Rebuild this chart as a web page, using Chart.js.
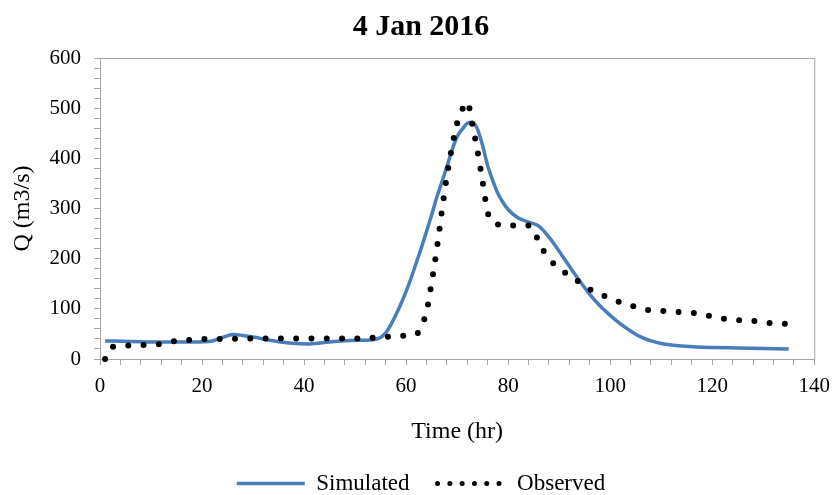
<!DOCTYPE html>
<html>
<head>
<meta charset="utf-8">
<script src="https://cdn.jsdelivr.net/npm/chart.js@4.4.1/dist/chart.umd.min.js"></script>
<style>
  html, body { margin: 0; padding: 0; background: #fff; }
  #wrap { width: 839px; height: 495px; }
</style>
</head>
<body>
<div id="wrap"><canvas id="grafico"></canvas></div>
<script>
// Simulated hydrograph (hour, Q m3/s)
const simHours = [1, 6, 12, 18, 22, 24, 26, 28, 30, 33, 37, 41, 45, 49, 53, 55, 56, 57, 58, 59, 60, 61, 62, 63, 64, 65, 66, 67, 68, 69, 70, 71, 72, 73, 74, 75, 76, 77, 78, 79, 80, 82, 84, 86, 88, 90, 92, 94, 96, 98, 100, 102, 104, 106, 108, 110, 112, 114, 117, 120, 125, 130, 135];
const simQ = [36, 35, 34, 34, 36, 43, 49, 47, 44, 38, 32, 30, 34, 37, 38, 43, 52, 68, 88, 110, 135, 162, 192, 222, 254, 287, 322, 352, 384, 416, 443, 458, 470, 472, 458, 425, 385, 355, 330, 312, 298, 281, 273, 265, 243, 215, 185, 156, 129, 106, 87, 70, 56, 44, 36, 31, 28, 26, 24, 23, 22, 21, 20];

// Observed hydrograph (hour, Q m3/s)
const obsHours = [1, 2, 3, 6, 9, 12, 15, 18, 21, 25, 30, 40, 50, 53, 56, 59, 62, 63, 64, 65, 66, 67, 68, 69, 70, 71, 72, 73, 74, 75, 76, 77, 78, 80, 82, 84, 85, 86, 88, 90, 92, 94, 96, 98, 100, 102, 104, 106, 108, 110, 112, 114, 116, 118, 120, 122, 124, 126, 128, 130, 132, 135];
const obsQ = [0, 22, 25, 27, 28, 30, 36, 38, 40, 40, 41, 41, 41, 42, 44, 46, 49, 66, 94, 152, 218, 294, 365, 423, 470, 497, 512, 466, 414, 353, 292, 273, 268, 265, 267, 266, 258, 233, 200, 181, 166, 153, 139, 129, 121, 113, 107, 101, 97, 96, 95, 93, 92, 89, 85, 81, 78, 77, 76, 74, 71, 70];

const xTickLabels = [0, 20, 40, 60, 80, 100, 120, 140];
const yTickLabels = [0, 100, 200, 300, 400, 500, 600];

const corEixo = "#a6a6a6";

Chart.defaults.font.family = "'Liberation Serif', 'Times New Roman', serif";
Chart.defaults.color = "#000";

// Moldura cinza em volta da area do grafico
const moldura = {
  id: "moldura",
  beforeDatasetsDraw(chart) {
    const { ctx, chartArea: a } = chart;
    ctx.save();
    ctx.strokeStyle = corEixo;
    ctx.lineWidth = 1;
    ctx.strokeRect(a.left + 0.5, a.top + 0.5, a.right - a.left, a.bottom - a.top);
    ctx.restore();
  },
};

new Chart(document.getElementById("grafico"), {
  type: "line",
  data: {
    datasets: [
      {
        label: "Simulated",
        data: simHours.map((h, i) => ({ x: h, y: simQ[i] })),
        borderColor: "rgb(74, 126, 187)",
        borderWidth: 3.5,
        pointRadius: 0,
        cubicInterpolationMode: "monotone",
        order: 1,
        clip: false,
      },
      {
        label: "Observed",
        data: obsHours.map((h, i) => ({ x: h, y: obsQ[i] })),
        borderColor: "#000",
        borderWidth: 6,
        borderDash: [0, 15.3],
        borderCapStyle: "round",
        pointRadius: 0,
        cubicInterpolationMode: "monotone",
        order: 0,
        clip: false,
      },
    ],
  },
  options: {
    responsive: true,
    maintainAspectRatio: false,
    animation: false,
    layout: { padding: { left: 23, right: 20, top: 0, bottom: -10 } },
    scales: {
      x: {
        type: "linear",
        min: 0,
        max: 140,
        afterFit: (scale) => { scale.height = 85; },
        border: { color: corEixo, width: 1 },
        grid: { drawOnChartArea: false, tickLength: 6, tickColor: corEixo },
        ticks: {
          stepSize: 4,
          autoSkip: false,
          maxRotation: 0,
          padding: 9,
          font: { size: 21 },
          callback: (v) => (xTickLabels.includes(v) ? v : ""),
        },
        title: { display: true, text: "Time (hr)", font: { size: 24 }, padding: { top: 0, bottom: -2 } },
      },
      y: {
        min: 0,
        max: 600,
        afterFit: (scale) => { scale.width = 77; },
        border: { color: corEixo, width: 1 },
        grid: { drawOnChartArea: false, tickLength: 6, tickColor: corEixo },
        ticks: {
          stepSize: 20,
          autoSkip: false,
          padding: 13,
          font: { size: 21 },
          callback: (v) => (yTickLabels.includes(v) ? v : ""),
        },
        title: { display: true, text: "Q (m3/s)", font: { size: 24 }, padding: { top: -15, bottom: 0 } },
      },
    },
    plugins: {
      title: {
        display: true,
        text: "4 Jan 2016",
        font: { size: 30, weight: "bold" },
        padding: { top: 9, bottom: 13 },
      },
      legend: {
        position: "bottom",
        labels: {
          usePointStyle: true,
          pointStyle: "line",
          pointStyleWidth: 68,
          padding: 28,
          font: { size: 23 },
          sort: (a, b) => a.datasetIndex - b.datasetIndex,
          generateLabels: (chart) => {
            const itens = Chart.defaults.plugins.legend.labels.generateLabels(chart);
            itens.forEach((it) => {
              if (it.text === "Observed") {
                it.lineDash = [0, 12.3];
                it.lineCap = "round";
                it.lineWidth = 5;
              } else {
                it.lineDash = [];
                it.lineCap = "butt";
                it.lineWidth = 3.5;
              }
            });
            return itens;
          },
        },
      },
      tooltip: { enabled: false },
    },
  },
  plugins: [moldura],
});
</script>
</body>
</html>
